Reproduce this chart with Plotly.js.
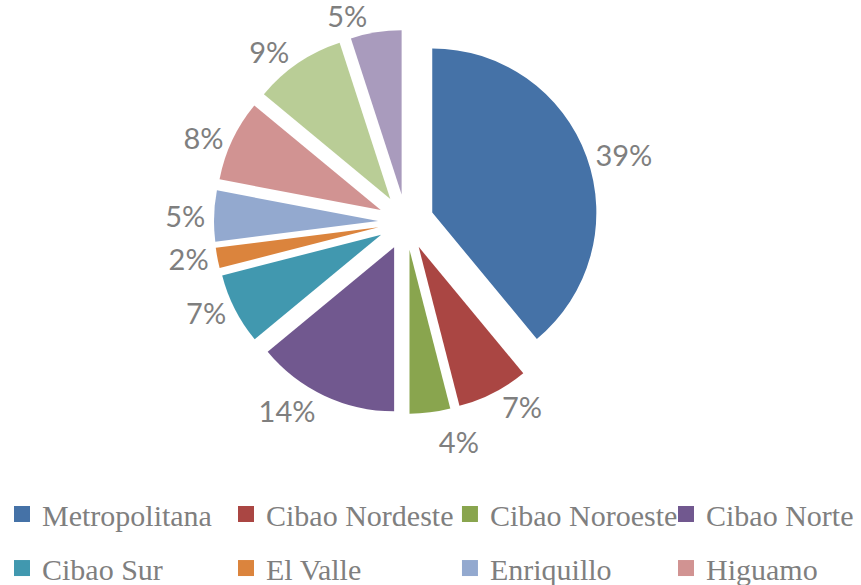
<!DOCTYPE html>
<html>
<head>
<meta charset="utf-8">
<script src="https://cdn.plot.ly/plotly-3.0.1.min.js"></script>
<style>html,body{margin:0;padding:0;background:#fff;}#chart{width:861px;height:585px;}</style>
</head>
<body>
<div id="chart"></div>
<script>
var regions = ["Metropolitana", "Cibao Nordeste", "Cibao Noroeste", "Cibao Norte", "Cibao Sur", "El Valle", "Enriquillo", "Higuamo", "Valdesia", "Yuma"];
var shares = [39, 7, 4, 14, 7, 2, 5, 8, 9, 5];
var colors = ["#4572A7", "#AA4643", "#89A54E", "#71588F", "#4198AF", "#DB843D", "#93A9CF", "#D19392", "#B9CD96", "#A99BBD"];
var legendRow1 = ["Metropolitana", "Cibao Nordeste", "Cibao Noroeste", "Cibao Norte"];
var legendRow2 = ["Cibao Sur", "El Valle", "Enriquillo", "Higuamo"];

var traces = [{
  type: "pie",
  labels: regions,
  values: shares,
  sort: false,
  direction: "clockwise",
  rotation: 0,
  pull: shares.map(function(){ return 0.17; }),
  marker: {colors: colors, line: {width: 0}},
  texttemplate: "%{value}%",
  textposition: "outside",
  textfont: {family: "Lato", size: 29, color: "#7f7f7f"},
  showlegend: false,
  hoverinfo: "label+percent",
  automargin: false,
  domain: {x: [0.24855, 0.69454], y: [0.29231, 0.94872]}
}];

// one single-entry legend per legend cell (4 columns x 2 rows)
var colX = [0.0023, 0.2625, 0.5226, 0.7735];
var rowY = [0.1214, 0.0290];
var layout = {
  width: 861,
  height: 585,
  margin: {l: 0, r: 0, t: 0, b: 0, autoexpand: false},
  paper_bgcolor: "#ffffff",
  plot_bgcolor: "#ffffff",
  xaxis: {visible: false},
  yaxis: {visible: false}
};

[legendRow1, legendRow2].forEach(function(row, r) {
  row.forEach(function(n, c) {
    var idx = r * 4 + c;
    var id = idx === 0 ? "legend" : "legend" + (idx + 1);
    traces.push({
      type: "scatter",
      mode: "markers",
      x: [null], y: [null],
      name: n,
      legend: id,
      marker: {symbol: "square", size: 16, color: colors[regions.indexOf(n)]},
      showlegend: true,
      hoverinfo: "skip"
    });
    layout[id] = {
      orientation: "h",
      xanchor: "left",
      yanchor: "middle",
      x: colX[c],
      y: rowY[r],
      font: {family: "Liberation Serif", size: 30, color: "#7f7f7f"},
      bgcolor: "rgba(0,0,0,0)",
      borderwidth: 0,
      itemclick: false,
      itemdoubleclick: false
    };
  });
});

Plotly.newPlot("chart", traces, layout, {displayModeBar: false, staticPlot: true}).then(function(gd) {
  gd.querySelectorAll("path.textline").forEach(function(p) { p.style.display = "none"; });
});
</script>
</body>
</html>
